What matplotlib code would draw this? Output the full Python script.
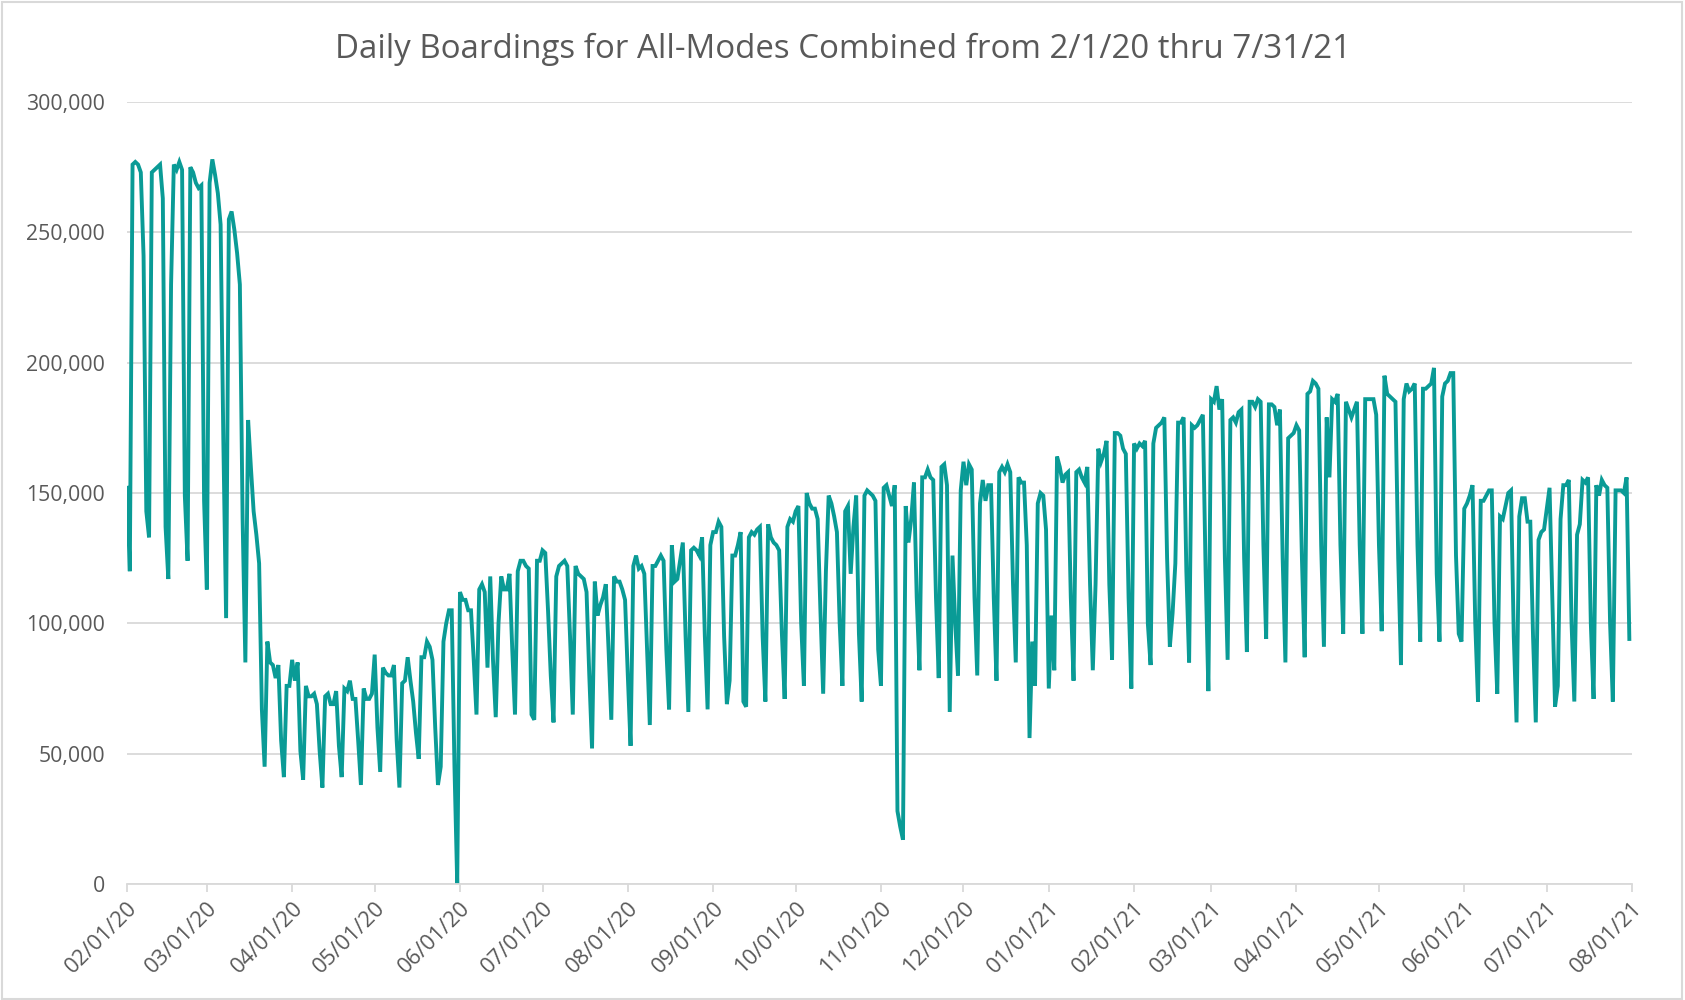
import matplotlib.pyplot as plt
import matplotlib.dates as mdates
import matplotlib.ticker as mticker
from matplotlib.patches import Rectangle
import numpy as np
import pandas as pd

# daily boardings (thousands), one list per month
feb20 = [152, 120, 276, 277, 276, 273, 241, 143, 133, 273, 274, 275, 276, 263, 137,
         117, 230, 276, 274, 277, 274, 149, 124, 275, 273, 269, 267, 268, 147]
mar20 = [113, 269, 278, 272, 265, 253, 170, 102, 255, 258, 251, 242, 230, 140, 85,
         178, 160, 143, 134, 123, 67, 45, 93, 85, 84, 79, 84, 55, 41, 76, 76]
apr20 = [86, 78, 85, 51, 40, 76, 72, 72, 73, 69, 51, 37, 72, 73, 69,
         69, 74, 53, 41, 75, 74, 78, 71, 71, 55, 38, 75, 71, 71, 73]
may20 = [88, 60, 43, 83, 81, 80, 80, 84, 55, 37, 77, 78, 87, 78, 70, 58,
         48, 87, 87, 93, 91, 86, 60, 38, 45, 93, 100, 105, 105, 45, 0]
jun20 = [112, 109, 109, 105, 105, 86, 65, 113, 115, 112, 83, 118, 86, 64, 100,
         118, 113, 113, 119, 90, 65, 120, 124, 124, 122, 121, 65, 63, 124, 124]
jul20 = [128, 127, 105, 80, 62, 118, 122, 123, 124, 122, 95, 65, 122, 119, 118, 117,
         112, 80, 52, 116, 103, 107, 110, 115, 90, 63, 118, 116, 116, 113, 109]
aug20 = [80, 53, 122, 126, 121, 122, 119, 90, 61, 122, 122, 124, 126, 124, 90, 67,
         130, 116, 117, 124, 131, 95, 66, 128, 129, 128, 126, 133, 95, 67, 130]
sep20 = [135, 135, 139, 137, 95, 69, 78, 126, 126, 130, 135, 70, 68, 133, 135,
         134, 136, 137, 95, 70, 138, 133, 131, 130, 128, 96, 71, 137, 140, 139]
oct20 = [143, 145, 100, 76, 150, 146, 144, 144, 140, 105, 73, 120, 149, 146, 141, 135,
         100, 76, 143, 145, 119, 137, 149, 96, 70, 149, 151, 150, 149, 147, 90]
nov20 = [76, 152, 153, 149, 145, 153, 28, 22, 17, 145, 131, 140, 154, 110, 82,
         156, 156, 159, 156, 155, 110, 79, 160, 161, 153, 66, 126, 100, 80, 151]
dec20 = [162, 153, 161, 159, 110, 80, 146, 155, 147, 153, 153, 110, 78, 158, 160, 158,
         161, 158, 115, 85, 156, 154, 154, 130, 56, 93, 76, 146, 150, 149, 136]
jan21 = [75, 103, 82, 164, 160, 154, 157, 158, 110, 78, 158, 159, 156, 154, 160, 115,
         82, 115, 167, 162, 165, 170, 115, 86, 173, 173, 172, 167, 165, 110, 75]
feb21 = [169, 167, 169, 168, 170, 100, 84, 169, 175, 176, 177, 179, 125, 91,
         104, 123, 177, 177, 179, 120, 85, 176, 175, 176, 178, 180, 120, 74]
mar21 = [186, 185, 191, 182, 186, 125, 86, 178, 179, 177, 181, 182, 125, 89, 185, 185,
         183, 186, 185, 130, 94, 184, 184, 183, 176, 182, 125, 85, 171, 172, 173]
apr21 = [176, 174, 125, 87, 188, 189, 193, 192, 190, 130, 91, 179, 156, 186, 185,
         188, 130, 96, 185, 182, 179, 182, 185, 130, 96, 186, 186, 186, 186, 180]
may21 = [130, 97, 195, 188, 187, 186, 185, 125, 84, 186, 192, 189, 190, 192, 130, 93,
         190, 190, 191, 192, 198, 119, 93, 187, 192, 193, 196, 196, 126, 96, 93]
jun21 = [144, 146, 149, 153, 100, 70, 147, 147, 149, 151, 151, 100, 73, 141, 140,
         145, 150, 151, 95, 62, 141, 148, 148, 139, 139, 95, 62, 132, 135, 136]
jul21 = [144, 152, 110, 68, 76, 140, 153, 153, 155, 100, 70, 134, 138, 155, 154, 156,
         100, 71, 153, 149, 155, 153, 152, 100, 70, 151, 151, 151, 150, 156, 94]

months = [feb20, mar20, apr20, may20, jun20, jul20, aug20, sep20, oct20, nov20, dec20,
          jan21, feb21, mar21, apr21, may21, jun21, jul21]
boardings = np.concatenate(months) * 1000
dates = pd.date_range('2020-02-01', '2021-07-31', freq='D')

title = 'Daily Boardings for All-Modes Combined from 2/1/20 thru 7/31/21'
line_color = '#0A9B96'
grid_color = '#D9D9D9'
text_color = '#595959'

plt.rcParams['font.family'] = ['Open Sans', 'DejaVu Sans']

fig = plt.figure(figsize=(16.85, 10), dpi=100)
ax = fig.add_axes([0.0754, 0.116, 0.8932, 0.782])

ax.plot(dates, boardings, color=line_color, lw=2.8, solid_joinstyle='miter')

ax.set_ylim(0, 300000)
ax.set_xlim(pd.Timestamp('2020-02-01'), pd.Timestamp('2021-08-01'))
ax.yaxis.set_major_locator(mticker.MultipleLocator(50000))
ax.yaxis.set_major_formatter(mticker.FuncFormatter(lambda v, p: f'{int(v):,}'))
ax.xaxis.set_major_locator(mdates.MonthLocator())
ax.xaxis.set_major_formatter(mdates.DateFormatter('%m/%d/%y'))

ax.grid(axis='y', color=grid_color, lw=1.3)
ax.set_axisbelow(True)
for s in ['top', 'right', 'left']:
    ax.spines[s].set_visible(False)
ax.spines['bottom'].set_color(grid_color)
ax.spines['bottom'].set_linewidth(1.3)

ax.tick_params(axis='y', length=0, pad=16, labelsize=15.3, labelcolor=text_color)
ax.tick_params(axis='x', length=6, width=1.3, color=grid_color, pad=4,
               labelsize=15.8, labelcolor=text_color)
for lab in ax.get_xticklabels():
    lab.set_rotation(45)
    lab.set_ha('right')
    lab.set_va('top')
    lab.set_rotation_mode('anchor')

fig.text(0.5, 0.951, title, ha='center', va='center', fontsize=23.8, color=text_color)

fig.patches.append(Rectangle((0.001, 0.001), 0.997, 0.997, transform=fig.transFigure,
                             fill=False, edgecolor=grid_color, lw=1.5))

fig.savefig('out.png', dpi=100)
